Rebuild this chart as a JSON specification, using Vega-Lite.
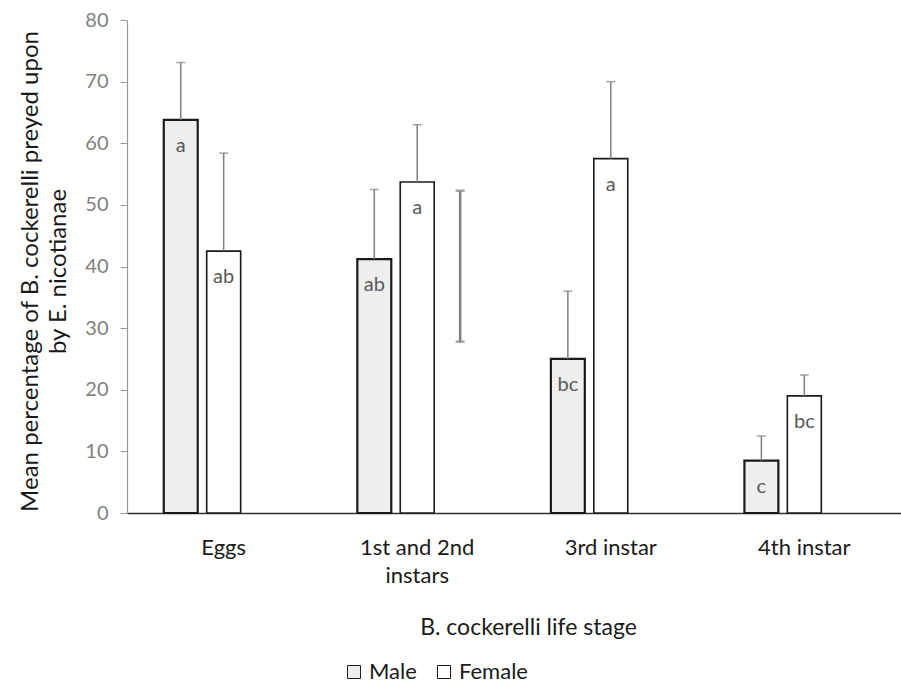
{
  "$schema": "https://vega.github.io/schema/vega-lite/v6.json",
  "width": 774,
  "height": 493,
  "autosize": {"type": "none"},
  "padding": {"left": 127, "top": 20, "right": 0, "bottom": 174},
  "background": "white",
  "config": {
    "view": {"stroke": null},
    "font": "Lato"
  },
  "datasets": {
    "main": [
      {"stage": "Eggs", "series": "Male", "value": 63.8, "upper": 73.1, "letter": "a"},
      {"stage": "Eggs", "series": "Female", "value": 42.5, "upper": 58.4, "letter": "ab"},
      {"stage": "1st and 2nd instars", "series": "Male", "value": 41.2, "upper": 52.5, "letter": "ab"},
      {"stage": "1st and 2nd instars", "series": "Female", "value": 53.7, "upper": 63.0, "letter": "a"},
      {"stage": "3rd instar", "series": "Male", "value": 25.0, "upper": 36.0, "letter": "bc"},
      {"stage": "3rd instar", "series": "Female", "value": 57.5, "upper": 70.0, "letter": "a"},
      {"stage": "4th instar", "series": "Male", "value": 8.5, "upper": 12.5, "letter": "c"},
      {"stage": "4th instar", "series": "Female", "value": 19.0, "upper": 22.4, "letter": "bc"}
    ],
    "lsd": [
      {"stage": "1st and 2nd instars", "series": "LSD", "low": 27.8, "high": 52.3}
    ]
  },
  "encoding": {
    "x": {
      "field": "stage",
      "type": "nominal",
      "sort": ["Eggs", "1st and 2nd instars", "3rd instar", "4th instar"],
      "scale": {"paddingInner": 0.381, "paddingOuter": 0.19},
      "axis": {
        "title": "B. cockerelli life stage",
        "labelAngle": 0,
        "labelExpr": "datum.label == '1st and 2nd instars' ? ['1st and 2nd', 'instars'] : datum.label",
        "labelFontSize": 22,
        "labelColor": "#1a1a1a",
        "labelLineHeight": 28,
        "labelBaseline": "top",
        "labelPadding": 24,
        "ticks": false,
        "tickSize": 0,
        "domainColor": "#333333",
        "domainWidth": 1.5,
        "titleFontSize": 23,
        "titleFontWeight": "normal",
        "titleColor": "#1a1a1a",
        "titlePadding": 30,
        "titleX": 401
      }
    },
    "xOffset": {
      "field": "series",
      "type": "nominal",
      "scale": {"domain": ["Male", "Female", "LSD"], "paddingInner": 0.209, "paddingOuter": 0}
    }
  },
  "layer": [
    {
      "data": {"name": "main"},
      "mark": {"type": "bar", "stroke": "#1a1a1a"},
      "encoding": {
        "y": {
          "field": "value",
          "type": "quantitative",
          "scale": {"domain": [0, 80], "nice": false},
          "axis": {
            "values": [0, 10, 20, 30, 40, 50, 60, 70, 80],
            "grid": false,
            "title": ["Mean percentage of B. cockerelli preyed upon", "by E. nicotianae"],
            "titleFontSize": 24,
            "titleFontWeight": "normal",
            "titleColor": "#1a1a1a",
            "titleLineHeight": 28,
            "titlePadding": 14,
            "titleY": 251,
            "labelFontSize": 20,
            "labelColor": "#7f7f7f",
            "labelPadding": 12,
            "tickSize": 7,
            "tickColor": "#999999",
            "domainColor": "#999999",
            "domainWidth": 1.2
          }
        },
        "fill": {
          "field": "series",
          "type": "nominal",
          "scale": {"domain": ["Male", "Female"], "range": ["#eeeeee", "#ffffff"]},
          "legend": {
            "title": null,
            "orient": "none",
            "legendX": 216,
            "legendY": 641,
            "direction": "horizontal",
            "symbolType": "square",
            "symbolSize": 169,
            "symbolStrokeColor": "#1a1a1a",
            "symbolStrokeWidth": 1,
            "labelFontSize": 22,
            "labelColor": "#1a1a1a",
            "labelOffset": 4,
            "columnPadding": 16,
            "padding": 0
          }
        },
        "strokeWidth": {
          "condition": {"test": "datum.series === 'Male'", "value": 2.2},
          "value": 1.6
        }
      }
    },
    {
      "data": {"name": "main"},
      "mark": {"type": "rule", "color": "#808080", "strokeWidth": 1.5},
      "encoding": {
        "y": {"field": "value", "type": "quantitative"},
        "y2": {"field": "upper"}
      }
    },
    {
      "data": {"name": "main"},
      "mark": {"type": "tick", "color": "#808080", "thickness": 1.5, "size": 9},
      "encoding": {
        "y": {"field": "upper", "type": "quantitative"}
      }
    },
    {
      "data": {"name": "main"},
      "mark": {"type": "text", "color": "#595959", "fontSize": 20, "baseline": "alphabetic", "dy": 32},
      "encoding": {
        "y": {"field": "value", "type": "quantitative"},
        "text": {"field": "letter"}
      }
    },
    {
      "data": {"name": "lsd"},
      "mark": {"type": "rule", "color": "#808080", "strokeWidth": 2.5},
      "encoding": {
        "y": {"field": "low", "type": "quantitative"},
        "y2": {"field": "high"}
      }
    },
    {
      "data": {"name": "lsd"},
      "mark": {"type": "tick", "color": "#808080", "thickness": 2.5, "size": 9},
      "encoding": {
        "y": {"field": "low", "type": "quantitative"}
      }
    },
    {
      "data": {"name": "lsd"},
      "mark": {"type": "tick", "color": "#808080", "thickness": 2.5, "size": 9},
      "encoding": {
        "y": {"field": "high", "type": "quantitative"}
      }
    }
  ]
}
